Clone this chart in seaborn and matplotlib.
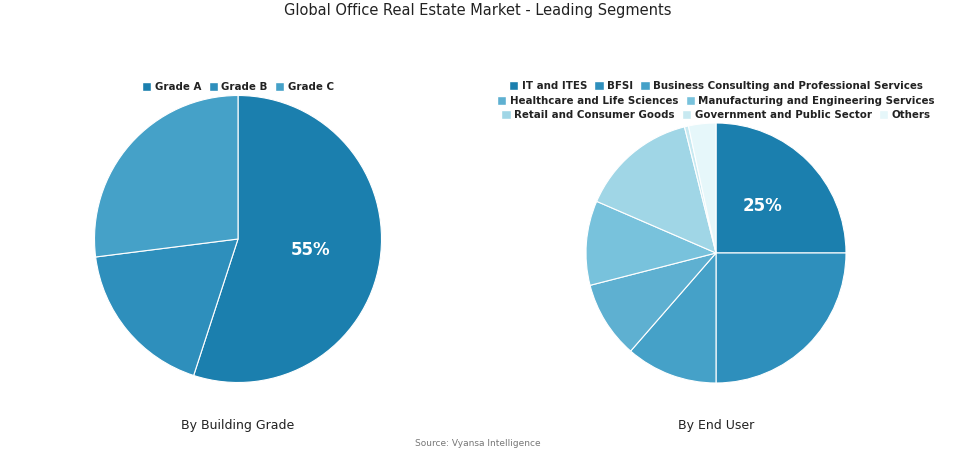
import matplotlib
matplotlib.use("Agg")
import matplotlib.pyplot as plt
import seaborn as sns
from matplotlib.patches import Patch

sns.set_theme(style="white")
plt.rcParams['font.family'] = ['DejaVu Sans']

grades = ["Grade A", "Grade B", "Grade C"]
grade_vals = [55, 18, 27]
users = ["IT and ITES", "BFSI", "Business Consulting and Professional Services",
         "Healthcare and Life Sciences", "Manufacturing and Engineering Services",
         "Retail and Consumer Goods", "Government and Public Sector", "Others"]
user_vals = [25, 25, 11.4, 9.6, 10.5, 14.6, 0.5, 3.4]

pal = ["#1b7fae", "#2e8fbc", "#45a1c8", "#5eb0d1", "#78c2dc", "#a0d6e6", "#c8e9f1", "#e6f7fa"]

fig = plt.figure(figsize=(9.55, 4.54), dpi=100)
fig.patch.set_facecolor("white")

def mkpct():
    state = {"i": 0}
    def f(p):
        state["i"] += 1
        return f"{p:.0f}%" if state["i"] == 1 else ""
    return f

def pie_ax(cx, cy, diam, vals, cols):
    h = diam / 454
    w = diam / 955
    ax = fig.add_axes([cx / 955 - w / 2, 1 - cy / 454 - h / 2, w, h])
    ax.pie(vals, colors=cols, startangle=90, counterclock=False,
           autopct=mkpct(), pctdistance=0.51, radius=1,
           wedgeprops=dict(edgecolor="white", linewidth=0.8),
           textprops=dict(color="white", fontsize=12, fontweight="bold"))
    ax.set_xlim(-1, 1)
    ax.set_ylim(-1, 1)
    ax.set_aspect("equal")
    ax.axis("off")
    return ax

pie_ax(238, 239, 287, grade_vals, pal[:3])
pie_ax(716, 253, 260, user_vals, pal)

lkw = dict(frameon=False, handlelength=0.9, handleheight=0.9, handletextpad=0.35,
           columnspacing=0.7, prop=dict(size=7.4, weight="bold"), borderaxespad=0,
           labelcolor="#222222")

def handles(names, cols):
    return [Patch(facecolor=c, label=n) for n, c in zip(names, cols)]

fig.legend(handles=handles(grades, pal[:3]), loc="center", ncol=3,
           bbox_to_anchor=(238 / 955, 1 - 87 / 454), **lkw)
rows = [(0, 3, 86), (3, 5, 101), (5, 8, 115)]
for a, b, y in rows:
    fig.legend(handles=handles(users[a:b], pal[a:b]), loc="center", ncol=b - a,
               bbox_to_anchor=(716 / 955, 1 - y / 454), **lkw)

fig.text(0.5, 1 - 11 / 454, "Global Office Real Estate Market - Leading Segments",
         ha="center", va="center", fontsize=10.5, color="#222222")
fig.text(238 / 955, 1 - 425 / 454, "By Building Grade", ha="center", va="center",
         fontsize=9, color="#222222")
fig.text(716 / 955, 1 - 425 / 454, "By End User", ha="center", va="center",
         fontsize=9, color="#222222")
fig.text(0.5, 1 - 444 / 454, "Source: Vyansa Intelligence", ha="center", va="center",
         fontsize=6.5, color="#777777")

fig.savefig("out.png", dpi=100, facecolor="white")
